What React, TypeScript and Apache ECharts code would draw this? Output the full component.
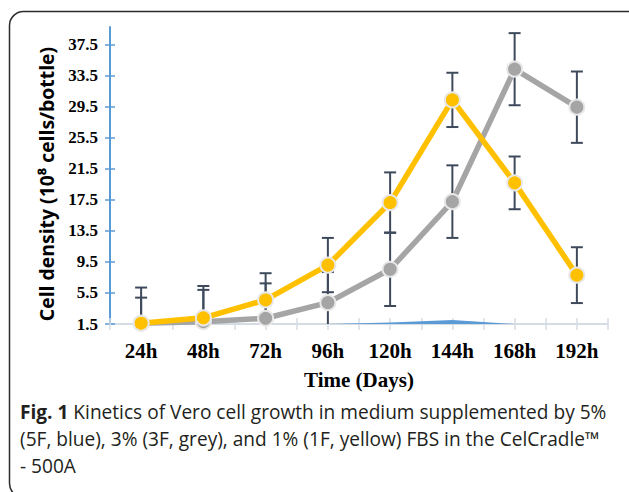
import React, { useEffect, useRef } from "react";
import * as echarts from "echarts";

const categories = ["24h", "48h", "72h", "96h", "120h", "144h", "168h", "192h"];
const yellow1F = [1.6, 2.3, 4.6, 9.1, 17.15, 30.4, 19.7, 7.8];
const yellowSD = [4.6, 4.1, 3.45, 3.5, 3.9, 3.5, 3.4, 3.6];
const grey3F = [1.6, 1.8, 2.24, 4.25, 8.56, 17.28, 34.36, 29.46];
const greySD = [3.3, 4.1, 4.5, 3.95, 4.74, 4.68, 4.65, 4.6];
const blue5F = [null, null, null, 1.5, 1.7, 2.0, 1.5, null];
const yTicks = [1.5, 5.5, 9.5, 13.5, 17.5, 21.5, 25.5, 29.5, 33.5, 37.5];
const Y_MIN = 1.5;
const Y_MAX = 39.8;

const yTitle = "Cell density (10⁸ cells/bottle)";
const captionLines = [
  "{b|Fig. 1} Kinetics of Vero cell growth in medium supplemented by 5%",
  "(5F, blue), 3% (3F, grey), and 1% (1F, yellow) FBS in the CelCradle™",
  "- 500A",
];

const SERIF = "'Liberation Serif', 'Times New Roman', serif";
const SANS = "'Open Sans', 'Noto Sans', sans-serif";
const ERR_COLOR = "#3e4a5c";
const CAP_SIZE = 19.1;

function errorData(vals: number[], sds: number[]) {
  return vals.map((v, i) => [i, v, sds[i]]);
}

function renderErr(params: any, api: any) {
  const idx = api.value(0);
  const v = api.value(1);
  const sd = api.value(2);
  const hi = v + sd;
  const lo = v - sd;
  const pTop = api.coord([idx, Math.min(hi, Y_MAX)]);
  const pBot = api.coord([idx, Math.max(lo, Y_MIN)]);
  const half = 6;
  const style = { stroke: ERR_COLOR, lineWidth: 2 };
  const children: any[] = [
    { type: "line", shape: { x1: pTop[0], y1: pTop[1], x2: pBot[0], y2: pBot[1] }, style },
  ];
  if (hi <= Y_MAX) {
    children.push({ type: "line", shape: { x1: pTop[0] - half, y1: pTop[1], x2: pTop[0] + half, y2: pTop[1] }, style });
  }
  if (lo >= Y_MIN) {
    children.push({ type: "line", shape: { x1: pBot[0] - half, y1: pBot[1], x2: pBot[0] + half, y2: pBot[1] }, style });
  }
  return { type: "group", children };
}

export default function App() {
  const ref = useRef<HTMLDivElement>(null);
  useEffect(() => {
    document.body.style.margin = "0";
    const chart = echarts.init(ref.current!, null, { renderer: "svg" });
    const tickAxisX = (align: boolean) => ({
      type: "category",
      position: "bottom",
      data: categories,
      boundaryGap: true,
      offset: 6,
      axisLine: { show: false },
      axisLabel: { show: false },
      axisTick: {
        show: true,
        inside: true,
        length: 12,
        interval: 0,
        alignWithLabel: align,
        lineStyle: { color: "#d6dce4", width: 1.5 },
      },
      splitLine: { show: false },
    });
    chart.setOption({
      animation: false,
      grid: { left: 110, right: 21, top: 27, bottom: 168 },
      xAxis: [
        {
          type: "category",
          position: "bottom",
          data: categories,
          boundaryGap: true,
          axisLine: { show: true, lineStyle: { color: "#d6dce4", width: 2 } },
          axisTick: { show: false },
          axisLabel: {
            interval: 0,
            margin: 16,
            fontFamily: SERIF,
            fontWeight: "bold",
            fontSize: 21,
            color: "#000",
          },
          name: "Time (Days)",
          nameLocation: "middle",
          nameGap: 45,
          nameTextStyle: { fontFamily: SERIF, fontWeight: "bold", fontSize: 21, color: "#000" },
          splitLine: { show: false },
        },
        tickAxisX(false),
        tickAxisX(true),
      ],
      yAxis: [
        {
          type: "value",
          position: "left",
          min: Y_MIN,
          max: Y_MAX,
          axisLine: { show: true, lineStyle: { color: "#5b9bd5", width: 2 } },
          axisTick: { show: false },
          splitLine: { show: false },
          axisLabel: {
            customValues: yTicks,
            margin: 12,
            fontFamily: SERIF,
            fontWeight: "bold",
            fontSize: 17,
            color: "#000",
          },
        },
        {
          type: "value",
          position: "left",
          min: Y_MIN,
          max: Y_MAX,
          offset: 5,
          axisLine: { show: false },
          axisLabel: { show: false },
          splitLine: { show: false },
          axisTick: {
            show: true,
            inside: true,
            length: 10,
            customValues: yTicks,
            lineStyle: { color: "#5b9bd5", width: 1.5 },
          },
        },
      ],
      series: [
        {
          name: "5F",
          type: "line",
          data: blue5F,
          symbol: "none",
          lineStyle: { width: 0 },
          areaStyle: { color: "#5b9bd5", opacity: 1, origin: "start" },
          z: 4,
        },
        {
          name: "3F err",
          type: "custom",
          data: errorData(grey3F, greySD),
          renderItem: renderErr,
          encode: { x: 0, y: 1 },
          z: 3,
          silent: true,
        },
        {
          name: "1F err",
          type: "custom",
          data: errorData(yellow1F, yellowSD),
          renderItem: renderErr,
          encode: { x: 0, y: 1 },
          z: 3,
          silent: true,
        },
        {
          name: "3F",
          type: "line",
          data: grey3F,
          symbol: "circle",
          symbolSize: 15,
          lineStyle: { color: "#a5a5a5", width: 5.5 },
          itemStyle: { color: "#a5a5a5", borderColor: "#e8e8e8", borderWidth: 2 },
          z: 5,
        },
        {
          name: "1F",
          type: "line",
          data: yellow1F,
          symbol: "circle",
          symbolSize: 15,
          lineStyle: { color: "#ffc000", width: 5.5 },
          itemStyle: { color: "#ffc000", borderColor: "#e8e8e8", borderWidth: 2 },
          z: 6,
        },
      ],
      graphic: [
        {
          type: "rect",
          shape: { x: 9.5, y: 11.5, width: 700, height: 486, r: 14 },
          style: { fill: "none", stroke: "#2b2b2b", lineWidth: 1.5 },
          silent: true,
        },
        {
          type: "text",
          x: 46,
          y: 184,
          rotation: Math.PI / 2,
          style: {
            text: yTitle,
            fontFamily: SANS,
            fontWeight: "bold",
            fontSize: 19.4,
            fill: "#000",
            textAlign: "center",
            textVerticalAlign: "middle",
          },
          silent: true,
        },
        ...captionLines.map((t, i) => ({
          type: "text",
          x: 20,
          y: 412 + i * 27,
          style: {
            text: t,
            fontFamily: SANS,
            fontSize: CAP_SIZE,
            fill: "#231f20",
            textAlign: "left",
            textVerticalAlign: "middle",
            rich: {
              b: { fontFamily: SANS, fontSize: CAP_SIZE, fontWeight: "bold", fill: "#231f20" },
            },
          },
          silent: true,
        })),
      ],
    });
    return () => chart.dispose();
  }, []);
  return <div ref={ref} style={{ width: 629, height: 492 }} />;
}
